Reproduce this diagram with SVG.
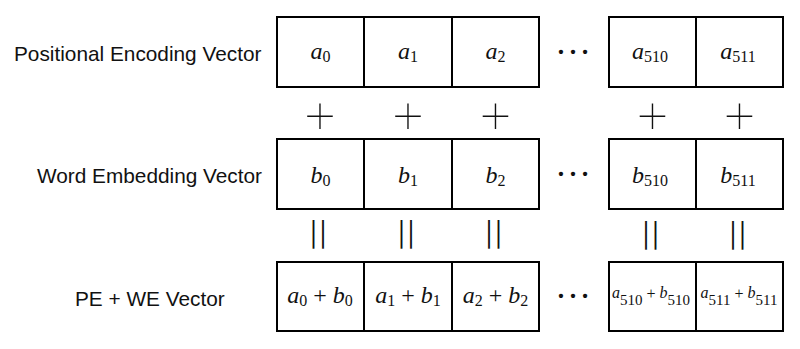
<svg xmlns="http://www.w3.org/2000/svg" width="800" height="349" viewBox="0 0 800 349">
<style>
.bg{fill:#ffffff}
.cell{fill:#ffffff;stroke:#000000;stroke-width:2}
.lbl{font-family:"Liberation Sans",Arial,sans-serif;font-size:20.8px;fill:#111111}
.m{font-family:"Liberation Serif","Times New Roman",serif;font-size:24px;fill:#111111;text-anchor:middle}
.ms{font-family:"Liberation Serif","Times New Roman",serif;font-size:16px;fill:#111111;text-anchor:middle}
.i{font-style:italic}
.sub{font-size:16px}
.sub2{font-size:15px}
.op{font-family:Inter,"Liberation Sans",sans-serif;font-weight:100;font-size:62px;fill:#111111;text-anchor:middle}
.eq{font-family:Inter,"Liberation Sans",sans-serif;font-weight:400;font-size:24px;fill:#111111;text-anchor:middle;letter-spacing:1.5px}
.dots{font-family:"Liberation Serif",serif;font-size:36px;fill:#111111;text-anchor:middle}
</style>
<rect class="bg" x="0" y="0" width="800" height="349"/>

<g id="labels">
<text id="label-pe" class="lbl" x="14" y="61">Positional Encoding Vector</text>
<text id="label-we" class="lbl" x="37" y="183">Word Embedding Vector</text>
<text id="label-sum" class="lbl" x="75" y="305.5">PE + WE Vector</text>
</g>

<g id="row-pe">
<g id="pe-0"><rect class="cell" x="277" y="17" width="87" height="70"/><text class="m" x="320.5" y="59"><tspan class="i">a</tspan><tspan class="sub" dy="3">0</tspan></text></g>
<g id="pe-1"><rect class="cell" x="364" y="17" width="88" height="70"/><text class="m" x="408" y="59"><tspan class="i">a</tspan><tspan class="sub" dy="3">1</tspan></text></g>
<g id="pe-2"><rect class="cell" x="452" y="17" width="87" height="70"/><text class="m" x="495.5" y="59"><tspan class="i">a</tspan><tspan class="sub" dy="3">2</tspan></text></g>
<g id="pe-dots"><text class="dots" x="573" y="54">…</text></g>
<g id="pe-510"><rect class="cell" x="609" y="17" width="87" height="70"/><text class="m" x="650" y="59"><tspan class="i">a</tspan><tspan class="sub" dy="3">510</tspan></text></g>
<g id="pe-511"><rect class="cell" x="696" y="17" width="87" height="70"/><text class="m" x="738" y="59"><tspan class="i">a</tspan><tspan class="sub" dy="3">511</tspan></text></g>
</g>

<g id="row-we">
<g id="we-0"><rect class="cell" x="277" y="139" width="87" height="70"/><text class="m" x="320.5" y="183"><tspan class="i">b</tspan><tspan class="sub" dy="3">0</tspan></text></g>
<g id="we-1"><rect class="cell" x="364" y="139" width="88" height="70"/><text class="m" x="408" y="183"><tspan class="i">b</tspan><tspan class="sub" dy="3">1</tspan></text></g>
<g id="we-2"><rect class="cell" x="452" y="139" width="87" height="70"/><text class="m" x="495.5" y="183"><tspan class="i">b</tspan><tspan class="sub" dy="3">2</tspan></text></g>
<g id="we-dots"><text class="dots" x="573" y="176">…</text></g>
<g id="we-510"><rect class="cell" x="609" y="139" width="87" height="70"/><text class="m" x="650" y="183"><tspan class="i">b</tspan><tspan class="sub" dy="3">510</tspan></text></g>
<g id="we-511"><rect class="cell" x="696" y="139" width="87" height="70"/><text class="m" x="738" y="183"><tspan class="i">b</tspan><tspan class="sub" dy="3">511</tspan></text></g>
</g>

<g id="row-sum">
<g id="sum-0"><rect class="cell" x="277" y="262" width="87" height="69"/><text class="m" x="320" y="303"><tspan class="i">a</tspan><tspan class="sub" dy="3">0</tspan><tspan dy="-3"> + </tspan><tspan class="i">b</tspan><tspan class="sub" dy="3">0</tspan></text></g>
<g id="sum-1"><rect class="cell" x="364" y="262" width="88" height="69"/><text class="m" x="408" y="303"><tspan class="i">a</tspan><tspan class="sub" dy="3">1</tspan><tspan dy="-3"> + </tspan><tspan class="i">b</tspan><tspan class="sub" dy="3">1</tspan></text></g>
<g id="sum-2"><rect class="cell" x="452" y="262" width="87" height="69"/><text class="m" x="495.5" y="303"><tspan class="i">a</tspan><tspan class="sub" dy="3">2</tspan><tspan dy="-3"> + </tspan><tspan class="i">b</tspan><tspan class="sub" dy="3">2</tspan></text></g>
<g id="sum-dots"><text class="dots" x="573" y="298">…</text></g>
<g id="sum-510"><rect class="cell" x="609" y="262" width="87" height="69"/><text class="ms" x="651" y="298"><tspan class="i">a</tspan><tspan class="sub2" dy="7">510</tspan><tspan dy="-6"> + </tspan><tspan class="i" dy="-1">b</tspan><tspan class="sub2" dy="7">510</tspan></text></g>
<g id="sum-511"><rect class="cell" x="696" y="262" width="87" height="69"/><text class="ms" x="739" y="298"><tspan class="i">a</tspan><tspan class="sub2" dy="7">511</tspan><tspan dy="-6"> + </tspan><tspan class="i" dy="-1">b</tspan><tspan class="sub2" dy="7">511</tspan></text></g>
</g>

<g id="connectors">
<text class="op" x="320" y="134">+</text>
<text class="op" x="408" y="134">+</text>
<text class="op" x="495.5" y="134">+</text>
<text class="op" x="652.5" y="134">+</text>
<text class="op" x="739.5" y="134">+</text>
<g transform="rotate(0.01 530 235)">
<text class="eq" x="319" y="243.5">||</text>
<text class="eq" x="407" y="243.5">||</text>
<text class="eq" x="494.5" y="243.5">||</text>
<text class="eq" x="651.5" y="243.5">||</text>
<text class="eq" x="738.5" y="243.5">||</text>
</g>
</g>
</svg>
